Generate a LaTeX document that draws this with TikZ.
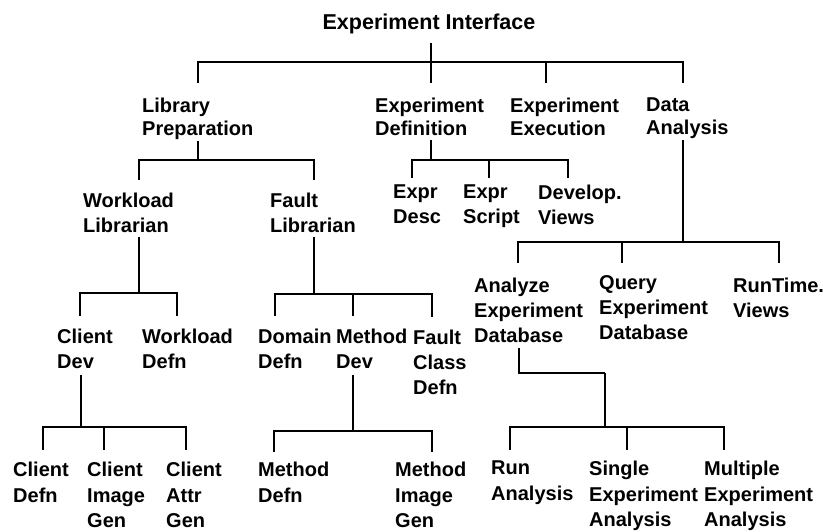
\documentclass[tikz,border=0pt]{standalone}
\usepackage{fontspec}
\setmainfont{Liberation Sans}
\begin{document}
\begin{tikzpicture}[x=1pt,y=-1pt,
  lbl/.style={anchor=north west, inner sep=0pt, align=left,
              font=\bfseries\fontsize{20}{25}\selectfont},
  lbltop/.style={lbl, font=\bfseries\fontsize{20}{23}\selectfont},
  lblbot/.style={lbl, font=\bfseries\fontsize{20}{25.5}\selectfont},
  link/.style={line width=2.7pt, line join=miter}]
\useasboundingbox (0,0) rectangle (823,531);

% ---- labels ----
\node[lbl, anchor=north, font=\bfseries\fontsize{21.5}{24}\selectfont] (root) at (429,14) {Experiment Interface};

\node[lbltop] (lp) at (142,98) {Library\\Preparation};
\node[lbltop] (ed) at (375,98) {Experiment\\Definition};
\node[lbltop] (ex) at (510,98) {Experiment\\Execution};
\node[lbltop] (da) at (646,98) {Data\\Analysis};

\node[lbl] (wl) at (83,193) {Workload\\Librarian};
\node[lbl] (fl) at (270,193) {Fault\\Librarian};
\node[lbl] (edesc) at (393,185) {Expr\\Desc};
\node[lbl] (escr) at (463,185) {Expr\\Script};
\node[lbl] (edev) at (538,185) {Develop.\\Views};

\node[lbl] (cd) at (57,329) {Client\\Dev};
\node[lbl] (wd) at (142,329) {Workload\\Defn};
\node[lbl] (dd) at (258,329) {Domain\\Defn};
\node[lbl] (md) at (336,329) {Method\\Dev};
\node[lbl] (fc) at (413,330) {Fault\\Class\\Defn};
\node[lbl] (ad) at (474,278) {Analyze\\Experiment\\Database};
\node[lbl] (qd) at (599,275) {Query\\Experiment\\Database};
\node[lbl] (rt) at (733,278) {RunTime.\\Views};

\node[lblbot] (cdf) at (13,462) {Client\\Defn};
\node[lblbot] (cig) at (87,462) {Client\\Image\\Gen};
\node[lblbot] (cag) at (166,462) {Client\\Attr\\Gen};
\node[lblbot] (mdf) at (258,462) {Method\\Defn};
\node[lblbot] (mig) at (395,462) {Method\\Image\\Gen};
\node[lblbot] (ra) at (491,461) {Run\\Analysis};
\node[lblbot] (sea) at (589,461) {Single\\Experiment\\Analysis};
\node[lblbot] (mea) at (704,461) {Multiple\\Experiment\\Analysis};

% ---- stem starts (below each parent) and drop ends (above each child) ----
\coordinate (root-s) at (431,43);
\coordinate (lp-in) at (198,83);
\coordinate (ed-in) at (431,83);
\coordinate (ex-in) at (546,83);
\coordinate (da-in) at (683,83);

\coordinate (lp-s) at (198,141);
\coordinate (wl-in) at (139,180);
\coordinate (fl-in) at (314,180);

\coordinate (ed-s) at (431,140);
\coordinate (edesc-in) at (412,178);
\coordinate (escr-in) at (489,178);
\coordinate (edev-in) at (568,178);

\coordinate (da-s) at (683,140);
\coordinate (ad-in) at (518,263);
\coordinate (qd-in) at (622,263);
\coordinate (rt-in) at (779,263);

\coordinate (wl-s) at (139,237);
\coordinate (cd-in) at (80,316);
\coordinate (wd-in) at (177,316);

\coordinate (fl-s) at (314,237);
\coordinate (dd-in) at (275,316);
\coordinate (md-in) at (353,316);
\coordinate (fc-in) at (432,317);

\coordinate (cd-s) at (81,375);
\coordinate (cdf-in) at (43,450);
\coordinate (cig-in) at (104,450);
\coordinate (cag-in) at (186,450);

\coordinate (md-s) at (353,375);
\coordinate (mdf-in) at (274,452);
\coordinate (mig-in) at (432,452);

\coordinate (ad-s) at (519,348);
\coordinate (ad-k) at (605,373);
\coordinate (ra-in) at (510,450);
\coordinate (sea-in) at (627,450);
\coordinate (mea-in) at (724,450);

% ---- connectors: stem down to the bar, then across and down to each child ----
\foreach \c in {lp,ed,ex,da}
  \draw[link] (root-s) -- ++(0,19) -| (\c-in);
\foreach \c in {wl,fl}
  \draw[link] (lp-s) -- ++(0,19) -| (\c-in);
\foreach \c in {edesc,escr,edev}
  \draw[link] (ed-s) -- ++(0,20) -| (\c-in);
\foreach \c in {ad,qd,rt}
  \draw[link] (da-s) -- ++(0,102) -| (\c-in);
\foreach \c in {cd,wd}
  \draw[link] (wl-s) -- ++(0,56) -| (\c-in);
\foreach \c in {dd,md,fc}
  \draw[link] (fl-s) -- ++(0,57) -| (\c-in);
\foreach \c in {cdf,cig,cag}
  \draw[link] (cd-s) -- ++(0,52) -| (\c-in);
\foreach \c in {mdf,mig}
  \draw[link] (md-s) -- ++(0,56) -| (\c-in);
\draw[link] (ad-s) |- (ad-k);
\foreach \c in {ra,sea,mea}
  \draw[link] (ad-k) -- ++(0,54) -| (\c-in);
\end{tikzpicture}
\end{document}
